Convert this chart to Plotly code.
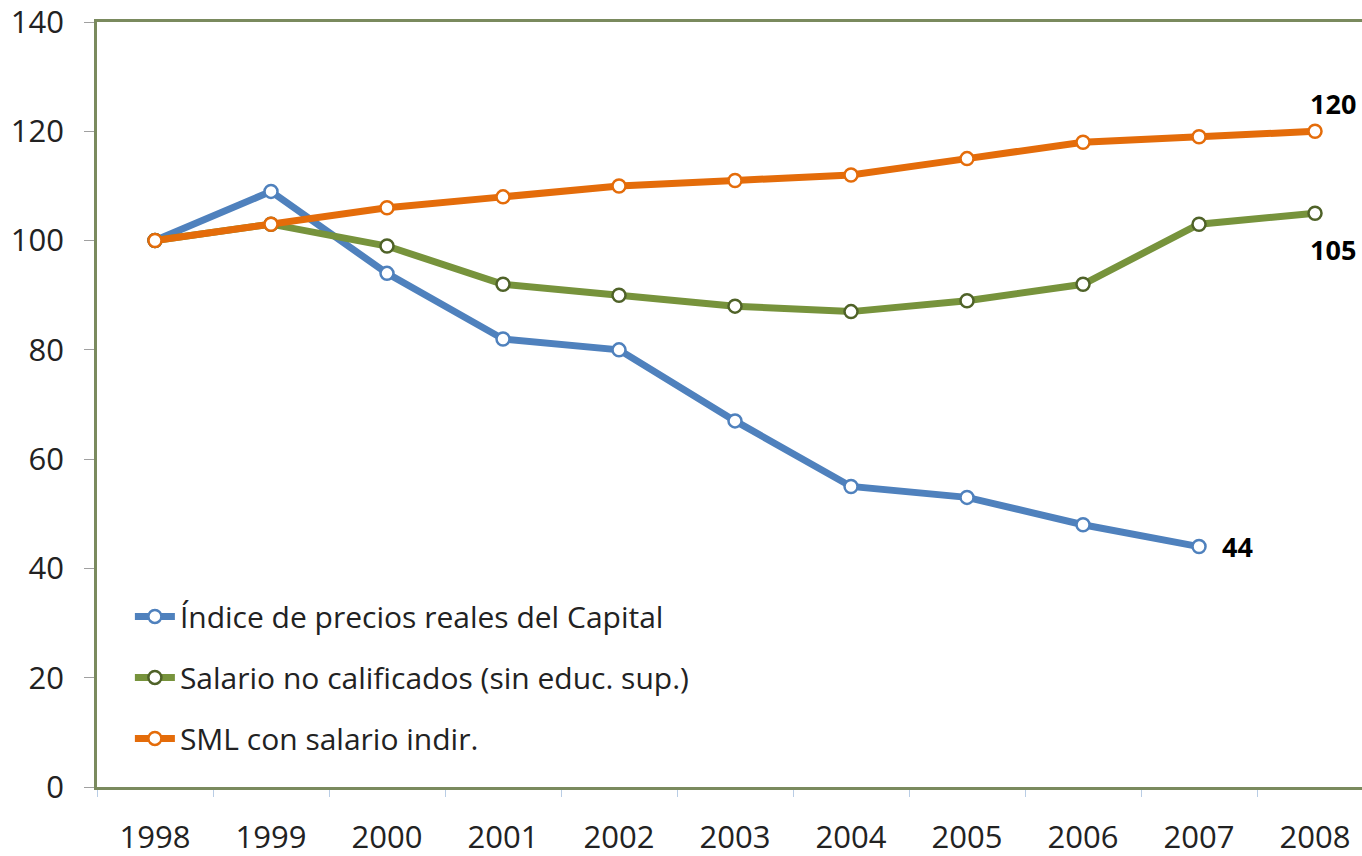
import plotly.graph_objects as go

years = ["1998", "1999", "2000", "2001", "2002", "2003", "2004", "2005", "2006", "2007", "2008"]
capital = [100, 109, 94, 82, 80, 67, 55, 53, 48, 44, None]
salario_nc = [100, 103, 99, 92, 90, 88, 87, 89, 92, 103, 105]
sml = [100, 103, 106, 108, 110, 111, 112, 115, 118, 119, 120]
y_ticks = [0, 20, 40, 60, 80, 100, 120, 140]

names = ["Índice de precios reales del Capital",
         "Salario no calificados (sin educ. sup.)",
         "SML con salario indir."]
line_colors = ["#4F81BD", "#77933C", "#E46C0A"]
marker_lines = ["#4F81BD", "#4F6228", "#E46C0A"]
series = [capital, salario_nc, sml]

FONT = "Open Sans"

fig = go.Figure()
for i, (nm, vals) in enumerate(zip(names, series)):
    fig.add_trace(go.Scatter(
        x=years, y=vals, name=nm, mode="lines+markers",
        legendgroup=f"g{i}",
        line=dict(color=line_colors[i], width=7),
        marker=dict(symbol="circle", size=13, color="white",
                    line=dict(color=marker_lines[i], width=2.5)),
        connectgaps=False,
    ))

# data labels
lab_font = dict(family=FONT, size=27, color="black")
fig.add_annotation(x=years.index("2008"), y=sml[-1], xref="x", yref="y",
                   text="<b>120</b>", showarrow=False,
                   xshift=18, yshift=28, font=lab_font)
fig.add_annotation(x=years.index("2008"), y=salario_nc[-1], xref="x", yref="y",
                   text="<b>105</b>", showarrow=False,
                   xshift=18, yshift=-36, font=lab_font)
fig.add_annotation(x=years.index("2007"), y=capital[9], xref="x", yref="y",
                   text="<b>44</b>", showarrow=False,
                   xshift=38, yshift=0, font=lab_font)

fig.update_layout(
    width=1362, height=856,
    margin=dict(l=97, r=0, t=22, b=69),
    plot_bgcolor="white", paper_bgcolor="white",
    font=dict(family=FONT, size=30, color="#222"),
    showlegend=True,
    legend=dict(x=0.026, y=0.257, xanchor="left", yanchor="top",
                bgcolor="rgba(0,0,0,0)", traceorder="grouped",
                tracegroupgap=19, font=dict(family=FONT, size=30, color="#222"),
                itemwidth=40),
)
fig.update_xaxes(
    type="category", range=[-0.5, 10.405], automargin=False,
    showline=True, linecolor="#7A8A5E", linewidth=2.5, mirror=True,
    ticks="outside", tickson="boundaries", ticklen=7, tickcolor="#B9CDE5",
    showgrid=False, zeroline=False, ticklabelstandoff=21,
    ticklabeloverflow="allow",
    tickfont=dict(family=FONT, size=31, color="#222"),
)
fig.update_yaxes(
    range=[0, 140], tickvals=y_ticks, automargin=False,
    showline=True, linecolor="#7A8A5E", linewidth=2.5,
    ticks="outside", ticklen=10, tickcolor="#A0A0A0",
    showgrid=False, zeroline=False, ticklabelstandoff=14,
    ticklabeloverflow="allow",
    tickfont=dict(family=FONT, size=31, color="#222"),
)

fig.write_html("out.html",
               config={"displayModeBar": False},
               post_script="document.body.style.margin='0';document.body.style.overflow='hidden';")
